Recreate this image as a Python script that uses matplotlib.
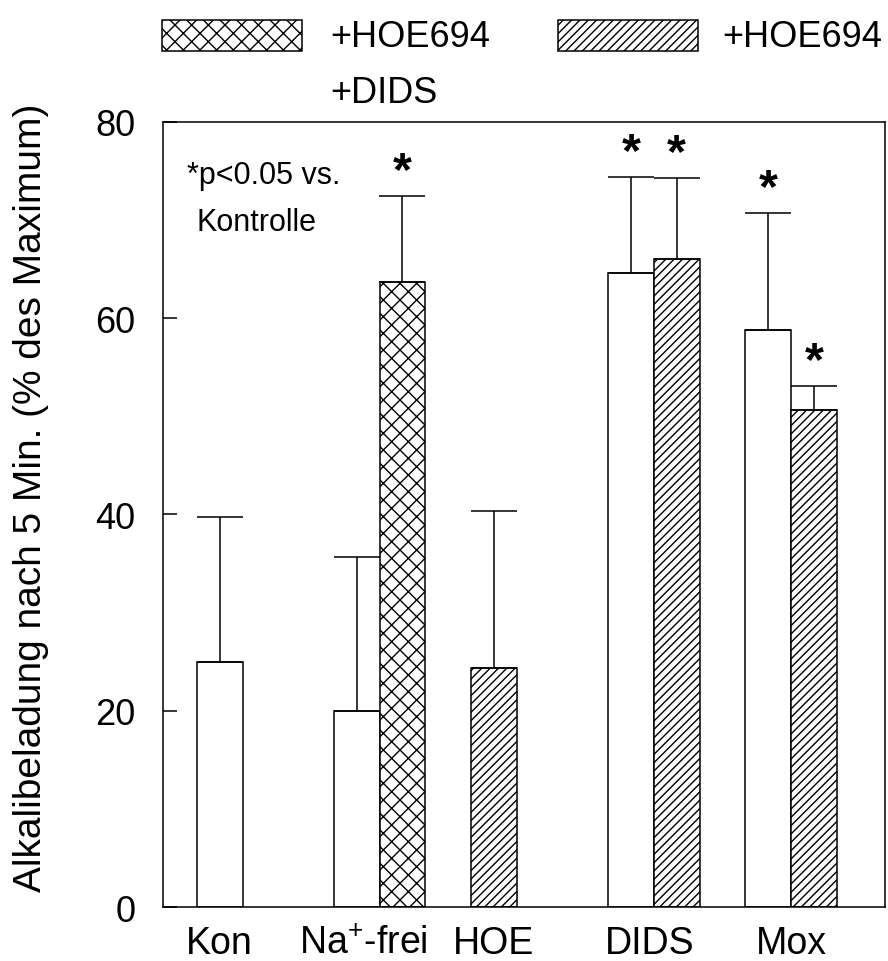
import numpy as np
import matplotlib
matplotlib.use('Agg')
import matplotlib.pyplot as plt
from matplotlib.patches import Rectangle

plt.rcParams['font.family'] = ['Liberation Sans', 'DejaVu Sans']
plt.rcParams['mathtext.default'] = 'regular'
plt.rcParams['hatch.linewidth'] = 1.0

# one entry per bar
bar_x = [1, 4, 5, 7, 10, 11, 13, 14]
bar_mean = [25.0, 20.0, 63.7, 24.4, 64.6, 66.0, 58.8, 50.6]
bar_sem = [14.7, 15.7, 8.7, 15.9, 9.8, 8.3, 11.9, 2.5]
bar_hatch = ['', '', 'xx', '////', '', '////', '', '////']
significant = [False, False, True, False, True, True, True, True]

group_labels = ['Kon', 'Na$^{+}$-frei', 'HOE', 'DIDS', 'Mox']
group_label_x = [1, 4.15, 7, 10.4, 13.5]
y_ticks = [0, 20, 40, 60, 80]


def main():
    fig = plt.figure(figsize=(8.88, 9.62), dpi=100)
    ax = fig.add_axes([0.1836, 0.0561, 0.8131, 0.8163])

    bars = ax.bar(bar_x, bar_mean, width=1.0, color='white',
                  edgecolor='black', linewidth=1.1, zorder=2)
    for patch, h in zip(bars, bar_hatch):
        patch.set_hatch(h)

    # upper error bars only
    ax.errorbar(bar_x, bar_mean, yerr=[np.zeros(len(bar_sem)), bar_sem],
                fmt='none', ecolor='black', elinewidth=1.1,
                capsize=16.5, capthick=1.1, zorder=3)

    for x, m, s, sig in zip(bar_x, bar_mean, bar_sem, significant):
        if sig:
            ax.text(x, m + s + 0.2, '*', ha='center', va='bottom',
                    fontsize=35, fontweight='bold')

    ax.text(0.033, 0.922, '*p<0.05 vs.', transform=ax.transAxes,
            fontsize=22, va='baseline')
    ax.text(0.046, 0.862, 'Kontrolle', transform=ax.transAxes,
            fontsize=22, va='baseline')

    ax.set_xlim(-0.24, 15.56)
    ax.set_ylim(0, 80)
    ax.set_yticks(y_ticks)
    ax.set_xticks(group_label_x)
    ax.set_xticklabels(group_labels, fontsize=27)
    ax.tick_params(axis='x', length=0, pad=13)
    ax.tick_params(axis='y', direction='in', length=10, width=1.1,
                   labelsize=26, pad=20)
    for sp in ax.spines.values():
        sp.set_linewidth(1.1)

    ax.set_ylabel('Alkalibeladung nach 5 Min. (% des Maximum)', fontsize=28)
    ax.yaxis.set_label_coords(-0.158, 0.523)

    # legend drawn by hand above the axes
    W, H = 888.0, 962.0
    for (x0, x1, hatch) in [(162, 302, 'xx'), (558, 698, '////')]:
        fig.patches.append(Rectangle((x0 / W, 1 - 52 / H), (x1 - x0) / W,
                                     31 / H, transform=fig.transFigure,
                                     facecolor='white', edgecolor='black',
                                     linewidth=1.1, hatch=hatch))
    fig.text(330 / W, 1 - 47 / H, '+HOE694', fontsize=26, va='baseline')
    fig.text(330 / W, 1 - 103 / H, '+DIDS', fontsize=26, va='baseline')
    fig.text(722 / W, 1 - 47 / H, '+HOE694', fontsize=26, va='baseline')

    fig.savefig('out.png', dpi=100)
    plt.close(fig)


if __name__ == "__main__":
    main()
